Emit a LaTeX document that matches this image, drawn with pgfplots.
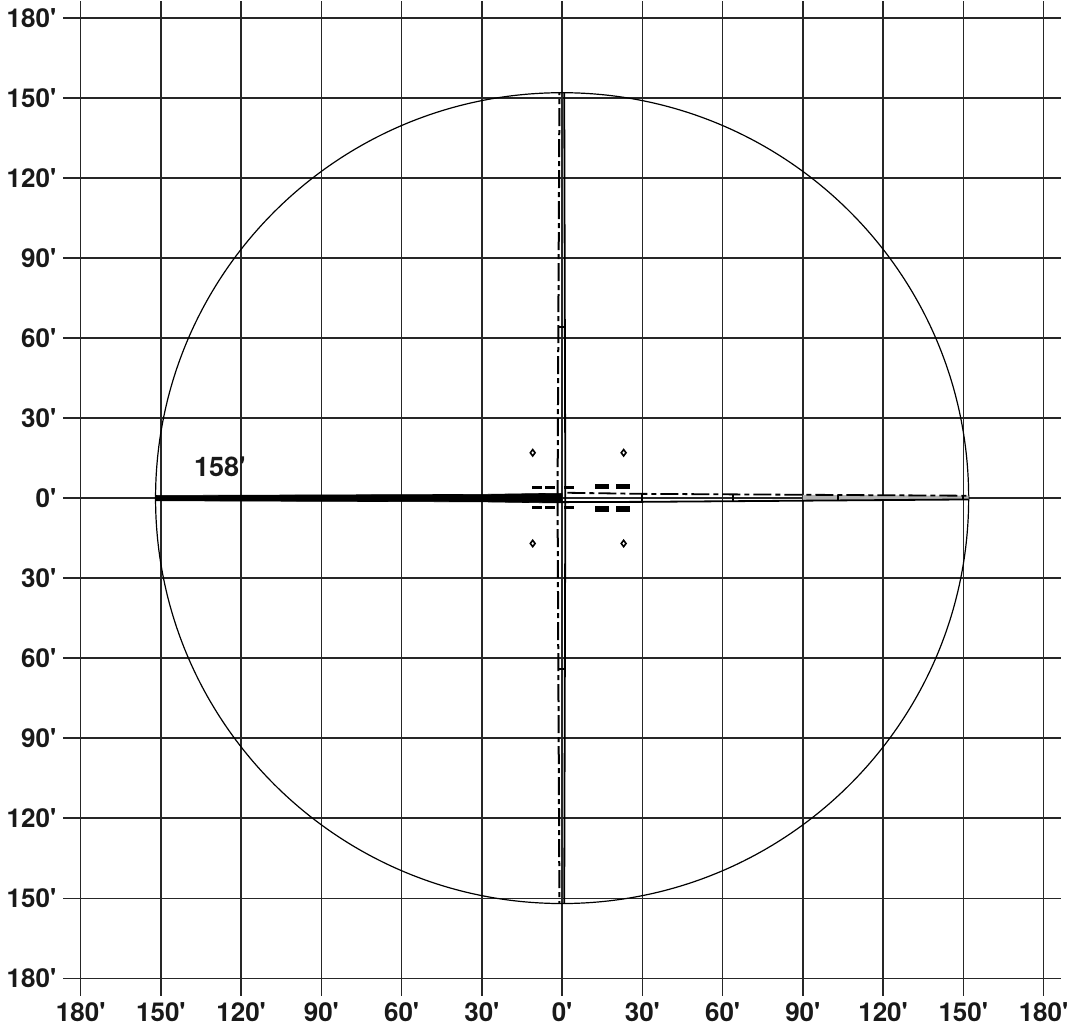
\documentclass[border=0pt]{standalone}
\usepackage{pgfplots}
\pgfplotsset{compat=1.18}
\usepackage{fontspec}
\setmainfont{TeX Gyre Heros}
\begin{document}
\begin{tikzpicture}
\begin{axis}[
  scale only axis, width=498.9pt, height=497.5pt,
  xmin=-186.5, xmax=186.5, ymin=-186.5, ymax=186.5,
  axis line style={draw=none},
  major tick length=0pt,
  xtick={-180,-150,...,180}, ytick={-180,-150,...,180},
  xticklabels={180\textquotesingle,150\textquotesingle,120\textquotesingle,90\textquotesingle,60\textquotesingle,30\textquotesingle,0\textquotesingle,30\textquotesingle,60\textquotesingle,90\textquotesingle,120\textquotesingle,150\textquotesingle,180\textquotesingle},
  yticklabels={180\textquotesingle,150\textquotesingle,120\textquotesingle,90\textquotesingle,60\textquotesingle,30\textquotesingle,0\textquotesingle,30\textquotesingle,60\textquotesingle,90\textquotesingle,120\textquotesingle,150\textquotesingle,180\textquotesingle},
  grid=major, major grid style={black!85, line width=0.7pt},
  tick label style={font=\bfseries\fontsize{13}{15}\selectfont, text=black!90},
  clip=false,
]
% circle of radius 152'
\draw[black, line width=0.6pt] (axis cs:0,0) circle[radius=152];
% gray band east
\addplot[fill=gray!60, draw=none] coordinates {(90,1.2)(152,0.9)(152,-0.5)(90,-0.9)} -- cycle;
% east lines
\addplot[black, line width=0.9pt, dash pattern=on 9pt off 2pt on 2.5pt off 2pt] coordinates {(2,2.0)(30,1.6)(152,0.9)};
\addplot[black, line width=0.9pt] coordinates {(0,-1.5)(30,-1.4)(152,-0.5)};
\addplot[black, line width=1pt] coordinates {(30,-1.4)(30,1.6)};
\addplot[black, line width=1pt] coordinates {(64,-1.2)(64,1.4)};
\addplot[black, line width=1pt] coordinates {(103,-0.9)(103,1.1)};
\addplot[black, line width=1pt] coordinates {(150,-0.5)(150,0.9)};
% north needle
\addplot[black, line width=1pt, dash pattern=on 9pt off 2pt on 2.5pt off 2pt] coordinates {(-1.7,0)(-1.0,152)};
\addplot[black, line width=0.9pt] coordinates {(1.2,0)(0.8,152)};
\addplot[black, line width=1pt] coordinates {(-1.6,64)(1.2,64)};
% south needle
\addplot[black, line width=1pt, dash pattern=on 9pt off 2pt on 2.5pt off 2pt] coordinates {(-1.7,0)(-1.0,-152)};
\addplot[black, line width=0.9pt] coordinates {(1.2,0)(0.8,-152)};
\addplot[black, line width=1pt] coordinates {(-1.6,-64)(1.2,-64)};
% west wedge
\addplot[fill=black, draw=black, line width=0.3pt] coordinates {(-152,-1.0)(-152,1.0)(-30,1.4)(-3,1.8)(0,1.8)(0,-1.8)(-3,-1.8)(-30,-1.4)} -- cycle;
% dash rectangles
\addplot[fill=black, draw=none] coordinates {(-11.2,3.3)(-7.5,3.3)(-7.5,4.4)(-11.2,4.4)} -- cycle;
\addplot[fill=black, draw=none] coordinates {(-6.4,3.3)(-2.6,3.3)(-2.6,4.4)(-6.4,4.4)} -- cycle;
\addplot[fill=black, draw=none] coordinates {(0.75,3.3)(4.5,3.3)(4.5,4.4)(0.75,4.4)} -- cycle;
\addplot[fill=black, draw=none] coordinates {(-11.2,-4.2)(-7.5,-4.2)(-7.5,-2.9)(-11.2,-2.9)} -- cycle;
\addplot[fill=black, draw=none] coordinates {(-6.4,-4.2)(-2.6,-4.2)(-2.6,-2.9)(-6.4,-2.9)} -- cycle;
\addplot[fill=black, draw=none] coordinates {(0.75,-4.2)(4.5,-4.2)(4.5,-2.9)(0.75,-2.9)} -- cycle;
\addplot[fill=black, draw=none] coordinates {(12.3,3.4)(17.6,3.4)(17.6,5.2)(12.3,5.2)} -- cycle;
\addplot[fill=black, draw=none] coordinates {(20.2,3.4)(25.4,3.4)(25.4,5.2)(20.2,5.2)} -- cycle;
\addplot[fill=black, draw=none] coordinates {(12.3,-5.1)(17.6,-5.1)(17.6,-2.9)(12.3,-2.9)} -- cycle;
\addplot[fill=black, draw=none] coordinates {(20.2,-5.1)(25.4,-5.1)(25.4,-2.9)(20.2,-2.9)} -- cycle;
% diamonds
\addplot[only marks, mark=diamond, mark size=1.6pt, mark options={black, line width=0.8pt, fill=white}] coordinates {(-11,17)(23,17)(-11,-17)(23,-17)};
% label
\node[font=\bfseries\fontsize{13.5}{15}\selectfont, text=black!90] at (axis cs:-128,11.6) {158\textquotesingle};
\end{axis}
\end{tikzpicture}
\end{document}
